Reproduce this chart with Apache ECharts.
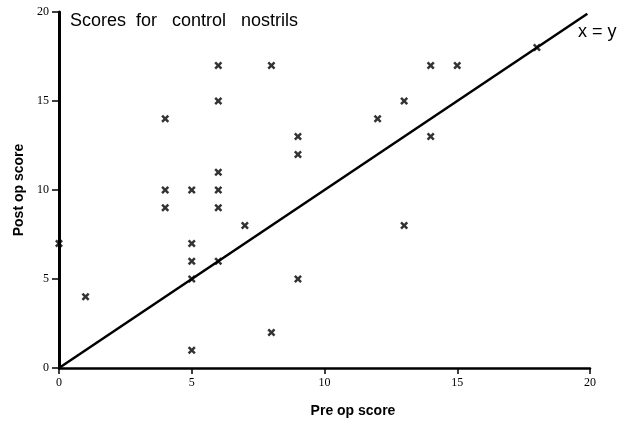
<!DOCTYPE html>
<html>
<head>
<meta charset="utf-8">
<script src="https://cdn.jsdelivr.net/npm/echarts@6/dist/echarts.min.js"></script>
<style>
  html, body { margin: 0; padding: 0; background: #fff; }
  #chart { width: 631px; height: 427px; }
</style>
</head>
<body>
<div id="chart"></div>
<script>
// pre op / post op scores
const pre_score = [0, 1, 4, 4, 4, 5, 5, 5, 5, 5, 6, 6, 6, 6, 6, 6, 7, 8, 8, 9, 9, 9, 12, 13, 13, 14, 14, 15, 18]
const post_score = [7, 4, 14, 10, 9, 10, 7, 6, 5, 1, 17, 15, 11, 10, 9, 6, 8, 17, 2, 13, 12, 5, 14, 15, 8, 17, 13, 17, 18]
const ref_line = [[0, 0], [19.9, 19.9]]

const points = pre_score.map((x, i) => [x, post_score[i]])
const crossPath = 'path://M0,2.2 L2.2,0 L5,2.8 L7.8,0 L10,2.2 L7.2,5 L10,7.8 L7.8,10 L5,7.2 L2.2,10 L0,7.8 L2.8,5 Z'

const chartDom = document.getElementById('chart')
const myChart = echarts.init(chartDom)
const tickFont = { fontFamily: 'Liberation Serif', fontSize: 12, color: '#000' }

const option = {
  animation: false,
  backgroundColor: '#fff',
  title: {
    text: 'Scores  for   control   nostrils',
    left: 65,
    top: 7,
    textStyle: { fontFamily: 'Liberation Sans', fontSize: 18, fontWeight: 'normal', color: '#000' },
  },
  grid: { left: 59, right: 41, top: 12, bottom: 59 },
  xAxis: {
    type: 'value',
    min: 0,
    max: 20,
    interval: 5,
    name: 'Pre op score',
    nameLocation: 'middle',
    nameGap: 36,
    nameTextStyle: { fontFamily: 'Liberation Sans', fontSize: 14, fontWeight: 'bold', color: '#000', padding: [0, 0, 0, 57] },
    axisLine: { lineStyle: { color: '#000', width: 2.5 } },
    axisTick: { length: 6, lineStyle: { color: '#000', width: 1.5 } },
    axisLabel: { ...tickFont, margin: 9 },
    splitLine: { show: false },
  },
  yAxis: {
    type: 'value',
    min: 0,
    max: 20,
    interval: 5,
    name: 'Post op score',
    nameLocation: 'middle',
    nameGap: 32,
    nameTextStyle: { fontFamily: 'Liberation Sans', fontSize: 14, fontWeight: 'bold', color: '#000' },
    axisLine: { show: true, lineStyle: { color: '#000', width: 3 } },
    axisTick: { show: true, length: 7, lineStyle: { color: '#000', width: 1.5 } },
    axisLabel: { ...tickFont, margin: 10 },
    splitLine: { show: false },
  },
  graphic: [
    {
      type: 'text',
      left: 578,
      top: 23,
      style: { text: 'x = y', fontFamily: 'Liberation Sans', fontSize: 18, fill: '#000' },
    },
  ],
  series: [
    {
      type: 'line',
      data: ref_line,
      symbol: 'none',
      lineStyle: { color: '#000', width: 2.5 },
      silent: true,
    },
    {
      type: 'scatter',
      data: points,
      symbol: crossPath,
      symbolSize: 8,
      itemStyle: { color: '#000' },
    },
  ],
}

option && myChart.setOption(option)
</script>
</body>
</html>
